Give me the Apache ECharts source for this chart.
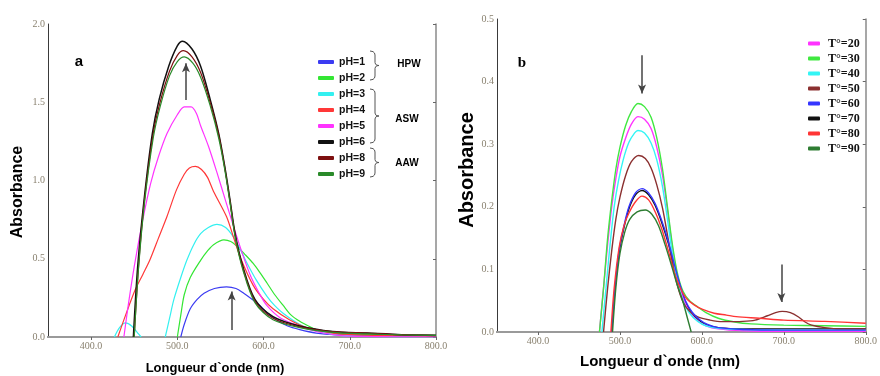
<!DOCTYPE html>
<html><head><meta charset="utf-8">
<script src="https://cdn.jsdelivr.net/npm/echarts@6/dist/echarts.min.js"></script>
<style>html,body{margin:0;padding:0;background:#fff}#c{width:880px;height:376px}</style>
</head><body><div id="c"></div>
<script>
// ---- Panel a: absorbance vs wavelength at different pH ----
const namesA = ['pH=1','pH=2','pH=3','pH=4','pH=5','pH=6','pH=8','pH=9'];
const pH1 = [[504,0],[508,0.08],[515,0.18],[523,0.24],[531,0.28],[543,0.31],[557,0.32],[568,0.31],[577,0.28],[587,0.24],[596,0.2],[605,0.15],[615,0.11],[628,0.07],[642,0.047],[661,0.025],[681,0.015],[800,0.01]];
const pH2 = [[500,0],[504,0.14],[508,0.27],[515,0.38],[527,0.49],[535,0.55],[542,0.59],[554,0.62],[562,0.61],[569,0.58],[578,0.53],[588,0.47],[596,0.41],[604,0.345],[613,0.27],[623,0.2],[632,0.14],[642,0.1],[652,0.07],[661,0.047],[681,0.025],[720,0.015],[800,0.01]];
const pH3 = [[427,0],[433,0.06],[440,0.09],[447,0.07],[455,0.02],[458,0],[null,null],[486,0],[491,0.12],[496,0.24],[504,0.38],[511,0.49],[519,0.59],[527,0.66],[536,0.7],[546,0.72],[556,0.7],[565,0.64],[573,0.56],[581,0.47],[592,0.36],[604,0.26],[613,0.2],[623,0.15],[642,0.08],[661,0.04],[681,0.015],[700,0.005],[800,0]];
const pH4 = [[431,0],[440,0.14],[451,0.3],[460,0.4],[468,0.49],[478,0.63],[488,0.77],[499,0.94],[508,1.04],[514,1.08],[521,1.09],[528,1.07],[535,1.02],[542,0.93],[557,0.77],[565,0.64],[573,0.51],[588,0.33],[600,0.24],[611,0.18],[630,0.11],[650,0.06],[681,0.025],[720,0.012],[800,0.005]];
const pH5 = [[438,0],[443,0.2],[450,0.45],[460,0.75],[469,0.98],[478,1.15],[488,1.3],[500,1.42],[508,1.47],[516,1.47],[522,1.43],[527,1.35],[536,1.22],[546,1.05],[556,0.87],[565,0.71],[575,0.54],[585,0.39],[595,0.28],[604,0.2],[620,0.12],[642,0.07],[661,0.035],[681,0.015],[700,0.005],[800,0]];
const pH6 = [[449,0],[454,0.45],[461.5,0.88],[471,1.3],[479,1.52],[490,1.73],[500,1.86],[506,1.89],[517,1.84],[527,1.73],[538,1.52],[548,1.3],[555,1.09],[561,0.88],[567,0.66],[576,0.45],[590,0.24],[611,0.13],[642,0.07],[680,0.035],[720,0.025],[760,0.015],[800,0.01]];
const pH8 = [[450,0],[455,0.45],[462,0.88],[472,1.3],[480,1.5],[491,1.7],[500,1.8],[507,1.83],[517,1.79],[527,1.69],[538,1.5],[548,1.29],[555,1.08],[561,0.87],[567,0.65],[576,0.44],[590,0.23],[611,0.12],[642,0.065],[680,0.035],[720,0.025],[760,0.015],[800,0.01]];
const pH9 = [[450,0],[455,0.44],[462,0.86],[472,1.27],[480,1.47],[491,1.67],[500,1.76],[508,1.79],[518,1.75],[527,1.66],[538,1.48],[548,1.27],[555,1.07],[561,0.86],[567,0.64],[576,0.43],[590,0.22],[611,0.11],[642,0.06],[680,0.03],[720,0.02],[760,0.013],[800,0.01]];
const dataA = [pH1,pH2,pH3,pH4,pH5,pH6,pH8,pH9];
const colorsA = ['#3b3bf2','#33e633','#33f0f0','#ff3838','#ff33ff','#111111','#7d1010','#2a8a2a'];
const arrowsA = [[[510,1.514],[510,1.75]],[[563,0.045],[563,0.29]]];

// ---- Panel b: absorbance vs wavelength at different temperatures ----
const namesB = ['T°=20','T°=30','T°=40','T°=50','T°=60','T°=70','T°=80','T°=90'];
const T20 = [[475,0],[480,0.07],[485,0.14],[490,0.2],[495,0.245],[500,0.28],[507,0.31],[514,0.332],[522,0.344],[530,0.34],[538,0.325],[545,0.295],[552,0.25],[558,0.195],[564,0.135],[570,0.09],[577,0.055],[585,0.032],[595,0.018],[605,0.01],[620,0.005],[650,0.002],[700,0.001],[800,0.001]];
const T30 = [[475,0],[480,0.07],[485,0.15],[490,0.21],[495,0.26],[500,0.295],[507,0.33],[514,0.352],[522,0.365],[530,0.36],[538,0.343],[545,0.31],[552,0.26],[558,0.2],[564,0.14],[570,0.095],[577,0.065],[585,0.05],[595,0.04],[605,0.031],[620,0.022],[640,0.016],[660,0.013],[700,0.011],[750,0.01],[800,0.009]];
const T40 = [[478,0],[483,0.07],[488,0.14],[493,0.2],[498,0.24],[504,0.275],[511,0.303],[518,0.318],[522,0.322],[530,0.318],[538,0.302],[545,0.275],[552,0.232],[558,0.18],[564,0.125],[570,0.082],[577,0.05],[585,0.03],[595,0.017],[605,0.01],[620,0.006],[650,0.004],[700,0.003],[800,0.003]];
const T50 = [[480,0],[485,0.07],[490,0.13],[495,0.18],[500,0.215],[507,0.25],[514,0.272],[523,0.282],[531,0.277],[538,0.262],[545,0.235],[552,0.198],[558,0.155],[564,0.11],[570,0.075],[577,0.048],[585,0.033],[595,0.024],[610,0.019],[625,0.0165],[650,0.017],[665,0.019],[680,0.026],[690,0.031],[698,0.033],[708,0.031],[718,0.024],[726,0.016],[734,0.011],[750,0.007],[770,0.005],[800,0.005]];
const T60 = [[490,0],[494,0.07],[499,0.13],[505,0.17],[511,0.2],[519,0.222],[527,0.229],[535,0.222],[543,0.205],[551,0.178],[559,0.145],[566,0.11],[573,0.077],[580,0.05],[588,0.032],[597,0.02],[607,0.012],[620,0.007],[650,0.004],[700,0.003],[800,0.003]];
const T70 = [[490,0],[494,0.068],[499,0.127],[505,0.167],[511,0.197],[519,0.219],[527,0.226],[535,0.219],[543,0.202],[551,0.175],[559,0.142],[566,0.107],[573,0.075],[580,0.048],[588,0.03],[597,0.018],[607,0.011],[620,0.007],[650,0.005],[700,0.005],[750,0.005],[800,0.005]];
const T80 = [[489,0],[493,0.07],[499,0.135],[505,0.17],[511,0.19],[519,0.208],[527,0.217],[535,0.211],[543,0.192],[551,0.165],[559,0.13],[566,0.097],[573,0.072],[581,0.054],[591,0.043],[601,0.036],[615,0.03],[630,0.027],[642,0.0245],[670,0.022],[700,0.019],[750,0.017],[800,0.014]];
const T90 = [[491,0],[495,0.07],[500,0.125],[506,0.16],[512,0.18],[521,0.192],[531,0.195],[539,0.188],[547,0.17],[555,0.14],[563,0.106],[570,0.075],[577,0.048],[582,0.024],[587,0]];
const dataB = [T20,T30,T40,T50,T60,T70,T80,T90];
const colorsB = ['#ff33ff','#40e840','#33f5f5','#8b3030','#3535ff','#111111','#ff3535','#2e7d32'];
const arrowsB = [[[527,0.442],[527,0.381]],[[697,0.108],[697,0.048]]];

const xTicks = [400,500,600,700,800];
const tickColor = '#8a8270';
const tickFont = 'Liberation Serif';

function xAx(grid, pos){
  const bottom = pos === 'bottom';
  return {
    type:'value', gridIndex:grid, position:pos, min:350, max:800,
    axisLine:{show:true, lineStyle:{color: bottom?'#808080':'#9a9a9a', width:2}},
    axisTick:{show:true, inside:!bottom, length: bottom?2:3, customValues:xTicks, lineStyle:{color:'#666'}},
    axisLabel:{show:bottom, customValues:xTicks, formatter:v=>v.toFixed(1), color:tickColor, fontFamily:tickFont, fontSize:10, margin:4},
    splitLine:{show:false}
  };
}
function yAx(grid, pos, max, interval){
  const left = pos === 'left';
  return {
    type:'value', gridIndex:grid, position:pos, min:0, max:max, interval:interval,
    axisLine:{show:true, lineStyle:{color: left?'#3a3a3a':'#8a8a8a', width: left?1:1.5}},
    axisTick:{show:!left, inside:true, length:3, lineStyle:{color:'#666'}},
    axisLabel:{show:left, formatter:v=>v.toFixed(1), color:tickColor, fontFamily:tickFont, fontSize:10, margin:3},
    splitLine:{show:false}
  };
}
function arrowML(arr){
  return {
    silent:true, symbol:['none','arrow'], symbolSize:[6,9], animation:false,
    lineStyle:{color:'#444', width:1.5, type:'solid'}, label:{show:false}, emphasis:{disabled:true},
    data: arr.map(a=>[{coord:a[0]},{coord:a[1]}])
  };
}
const series = [];
dataA.forEach((d,i)=>{
  const s = {name:namesA[i], type:'line', xAxisIndex:0, yAxisIndex:0, data:d, showSymbol:false, smooth:0.3,
    connectNulls:false, lineStyle:{width: i===5?1.5:1.2, color:colorsA[i]}, itemStyle:{color:colorsA[i]}, z: 2, animation:false};
  if(i===5) s.markLine = arrowML(arrowsA);
  series.push(s);
});
dataB.forEach((d,i)=>{
  const s = {name:namesB[i], type:'line', xAxisIndex:2, yAxisIndex:2, data:d, showSymbol:false, smooth:0.3,
    lineStyle:{width:1.4, color:colorsB[i]}, itemStyle:{color:colorsB[i]}, z: i===5?1:2, animation:false};
  if(i===1) s.markLine = arrowML(arrowsB);
  series.push(s);
});

function bracket(x0, top, bot){
  const mid = (top+bot)/2;
  return {type:'polyline', silent:true, shape:{points:[
    [x0,top],[x0+3,top+0.6],[x0+4.5,top+2],[x0+5,top+4],[x0+5,mid-3],[x0+5.6,mid-1.2],[x0+7,mid-0.3],[x0+9,mid],
    [x0+7,mid+0.3],[x0+5.6,mid+1.2],[x0+5,mid+3],[x0+5,bot-4],[x0+4.5,bot-2],[x0+3,bot-0.6],[x0,bot]]},
    style:{stroke:'#555', fill:null, lineWidth:1}};
}
function txt(x,y,text,font,rot){
  return {type:'text', x:x, y:y, rotation:rot||0, silent:true,
    style:{text:text, font:font, fill:'#000', align:'center', verticalAlign:'middle', textAlign:'center', textVerticalAlign:'middle'}};
}

const option = {
  backgroundColor:'#fff',
  animation:false,
  grid:[
    {left:48, top:24, right:444, bottom:39},
    {left:497, top:19, right:8, bottom:44}
  ],
  xAxis:[xAx(0,'bottom'), xAx(0,'top'), xAx(1,'bottom'), xAx(1,'top')],
  yAxis:[yAx(0,'left',2,0.5), yAx(0,'right',2,0.5), yAx(1,'left',0.5,0.1), yAx(1,'right',0.5,0.1)],
  legend:[
    {data:namesA, orient:'vertical', left:313, top:50, itemWidth:16, itemHeight:4, icon:'roundRect', itemGap:2,
     selectedMode:false, textStyle:{fontFamily:'Liberation Sans', fontWeight:'bold', fontSize:10.5, color:'#111', lineHeight:14}},
    {data:namesB, orient:'vertical', left:803, top:32, itemWidth:12, itemHeight:4, icon:'roundRect', itemGap:2,
     selectedMode:false, textStyle:{fontFamily:'Liberation Serif', fontWeight:'bold', fontSize:12, color:'#111', lineHeight:13, padding:[0,0,0,3]}}
  ],
  graphic:[
    bracket(370,51,80), bracket(370,89,143), bracket(370,148,177),
    txt(409,64,'HPW','bold 10px Liberation Sans'),
    txt(407,119,'ASW','bold 10px Liberation Sans'),
    txt(407,163,'AAW','bold 10px Liberation Sans'),
    txt(79,62,'a','bold 15px Liberation Sans'),
    txt(522,63,'b','bold 15px Liberation Serif'),
    txt(18,192,'Absorbance','bold 16px Liberation Sans',Math.PI/2),
    txt(467,170,'Absorbance','bold 20px Liberation Sans',Math.PI/2),
    txt(215,368,'Longueur d`onde (nm)','bold 13px Liberation Sans'),
    txt(660,362,'Longueur d`onde (nm)','bold 15px Liberation Sans')
  ],
  series: series
};
const chart = echarts.init(document.getElementById('c'), null, {renderer:'canvas'});
chart.setOption(option);
</script></body></html>
